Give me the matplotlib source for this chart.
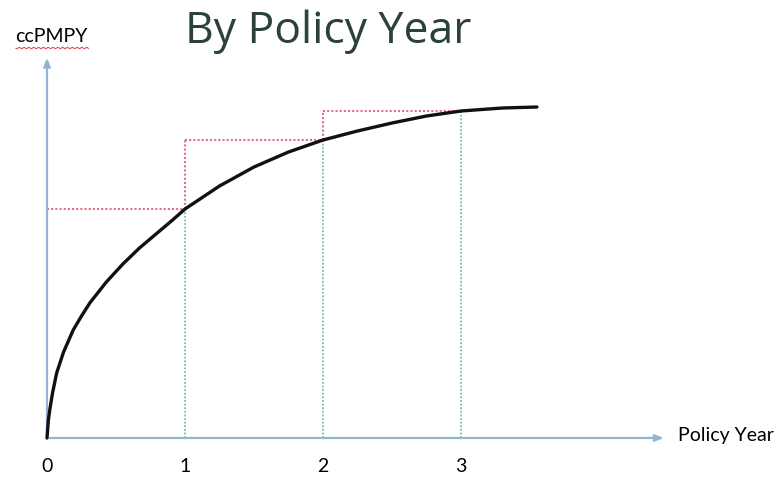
import numpy as np
import matplotlib.pyplot as plt

# curve (x in policy years, y in ccPMPY units)
curve_x = [0.0, 0.01, 0.02, 0.04, 0.07, 0.12, 0.19, 0.25, 0.31, 0.43, 0.55, 0.67, 0.79, 0.91, 1.0,
           1.25, 1.5, 1.75, 2.0, 2.25, 2.5, 2.75, 3.0, 3.3, 3.55]
curve_y = [0.0, 0.18, 0.28, 0.45, 0.65, 0.86, 1.08, 1.22, 1.35, 1.56, 1.74, 1.90, 2.04, 2.18, 2.29,
           2.52, 2.71, 2.86, 2.98, 3.07, 3.15, 3.22, 3.27, 3.30, 3.31]

years = [1, 2, 3]
year_values = [2.29, 2.98, 3.27]
tick_labels = ['0', '1', '2', '3']

axis_col = '#93b4d2'
red_col = '#e0707e'
green_col = '#6cc6a2'

fig = plt.figure(figsize=(7.77, 4.79), dpi=100)
ax = fig.add_axes([0, 0, 1, 1])
ax.set_xlim(-47 / 138, (777 - 47) / 138)
ax.set_ylim(-(479 - 438) / 100, 438 / 100)
ax.axis('off')

# axes with arrows
ax.annotate('', xy=(0, 3.83), xytext=(0, 0),
            arrowprops=dict(arrowstyle='-|>,head_length=0.5,head_width=0.2', color=axis_col, lw=1.6))
ax.annotate('', xy=(4.49, 0), xytext=(0, 0),
            arrowprops=dict(arrowstyle='-|>,head_length=0.5,head_width=0.2', color=axis_col, lw=1.6))

# red step lines
prev_x = 0
for i in range(len(years)):
    ax.plot([prev_x, years[i]], [year_values[i], year_values[i]], color=red_col, lw=1.5, ls=(0, (1, 1)))
    if i > 0:
        ax.plot([prev_x, prev_x], [year_values[i - 1], year_values[i]], color=red_col, lw=1.5, ls=(0, (1, 1)))
    prev_x = years[i]

# green verticals
for i in range(len(years)):
    ax.plot([years[i], years[i]], [0, year_values[i]], color=green_col, lw=1.3, ls=(0, (1, 1)))

ax.plot(curve_x, curve_y, color='#111111', lw=2.4, solid_capstyle='round',
        solid_joinstyle='round', zorder=5)

for i in range(len(tick_labels)):
    ax.text(i, -0.29, tick_labels[i], ha='center', va='center', fontsize=14, family='Lato')

ax.text(4.57, 0.02, 'Policy Year', ha='left', va='center', fontsize=14, family='Lato')
ax.text(-0.23, 4.02, 'ccPMPY', ha='left', va='center', fontsize=14, family='Lato')
sq = np.linspace(-0.225, 0.30, 60)
ax.plot(sq, 3.90 + 0.008 * np.sin(sq * 180), color='#e05060', lw=0.8)

ax.text(2.04, 3.95, 'By Policy Year', ha='center', va='baseline', fontsize=32,
        family='Open Sans', color='#2b4237')

fig.savefig('out.png', dpi=100)
